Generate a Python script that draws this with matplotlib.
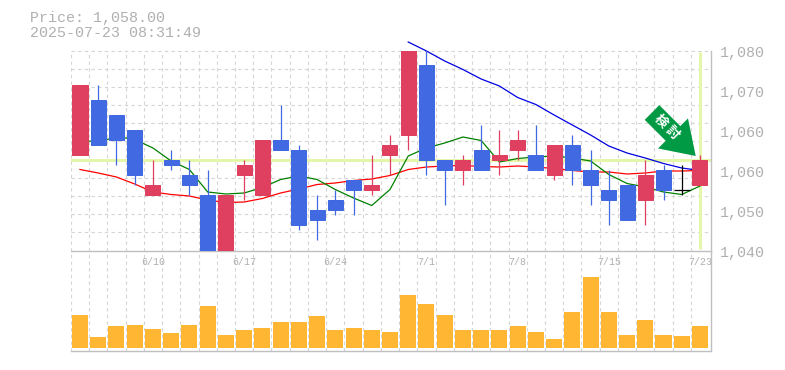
import matplotlib
matplotlib.use('Agg')
import matplotlib.pyplot as plt
from matplotlib.patches import FancyArrow
from matplotlib.transforms import IdentityTransform

# daily prices, first to last candle
opens = [1059, 1070, 1067, 1064, 1051, 1058, 1055, 1051, 1036, 1055, 1051, 1062,
         1060, 1048, 1050, 1054, 1052, 1059, 1063, 1077, 1058, 1056, 1060, 1058,
         1060, 1059, 1055, 1061, 1056, 1052, 1053, 1050, 1056, 1052, 1053]
closes = [1073, 1061, 1062, 1055, 1053, 1057, 1053, 1036, 1051, 1057, 1062, 1060,
          1045, 1046, 1048, 1052, 1053, 1061, 1080, 1058, 1056, 1058, 1056, 1059,
          1062, 1056, 1061, 1056, 1053, 1050, 1046, 1055, 1052, 1052, 1058]
highs = [1073, 1073, 1067, 1064, 1058, 1060, 1058, 1056, 1051, 1058, 1062, 1069,
         1061, 1051, 1052, 1054, 1059, 1063, 1080, 1080, 1058, 1059, 1065, 1064,
         1064, 1065, 1061, 1063, 1060, 1056, 1053, 1058, 1057, 1057, 1059]
lows = [1059, 1061, 1057, 1053, 1051, 1056, 1051, 1036, 1036, 1050, 1051, 1060,
        1044, 1042, 1047, 1047, 1051, 1055, 1060, 1055, 1049, 1053, 1056, 1055,
        1058, 1056, 1054, 1053, 1049, 1045, 1046, 1045, 1050, 1051, 1053]
volumes = [3300, 1100, 2200, 2300, 1900, 1500, 2300, 4200, 1300, 1800, 2000, 2600,
           2600, 3200, 1800, 2000, 1800, 1600, 5300, 4400, 3300, 1800, 1800, 1800,
           2200, 1600, 900, 3600, 7100, 3600, 1300, 2800, 1300, 1200, 2200]

ma_short = [1062.0, 1061.4, 1062.6, 1062.0, 1060.3, 1057.7, 1056.0, 1051.5, 1051.1,
            1051.3, 1052.4, 1054.0, 1054.7, 1054.0, 1052.0, 1050.3, 1048.8, 1052.0,
            1058.7, 1060.3, 1061.3, 1062.5, 1061.8, 1057.5, 1058.2, 1058.5, 1058.7,
            1058.3, 1057.7, 1055.0, 1053.2, 1052.5, 1051.5, 1051.0, 1052.7]
ma_mid = [1056.0, 1055.3, 1054.5, 1053.1, 1051.5, 1051.0, 1050.7, 1049.9, 1049.4,
          1049.5, 1050.2, 1051.3, 1052.1, 1053.0, 1053.3, 1053.8, 1054.1, 1054.8,
          1056.0, 1056.5, 1056.7, 1056.8, 1056.6, 1056.5, 1056.7, 1056.5, 1056.2,
          1055.8, 1055.5, 1055.5, 1055.1, 1055.3, 1055.7, 1055.7, 1055.8]
ma_long = [1081.5, 1079.7, 1077.7, 1076.0, 1074.1, 1072.7, 1070.4, 1069.0, 1066.9,
           1064.9, 1062.9, 1060.7, 1059.3, 1058.3, 1057.2, 1056.3, 1055.8]
ma_long_start = 18

price_ticks = [1040, 1048, 1056, 1064, 1072, 1080]
price_labels = ['1,040', '1,050', '1,060', '1,060', '1,070', '1,080']
date_idx = [4, 9, 14, 19, 24, 29, 34]
date_labels = ['6/10', '6/17', '6/24', '7/1', '7/8', '7/15', '7/23']
last_price = 1058

RED = '#e04060'
BLUE = '#4169e1'
BAR = '#ffb733'
GRID = '#d4d4d4'
FRAME = '#c0c0c0'
TEXT = '#b0b0b0'
HILITE = '#e4f6aa'
MONO = 'Liberation Mono'

W, H = 785, 370
L, R = 70.5, 710.5
fig = plt.figure(figsize=(W / 100, H / 100), dpi=100)
ax = fig.add_axes([L / W, 1 - 250.5 / H, (R - L) / W, 200 / H])
vol = fig.add_axes([L / W, 1 - 350.5 / H, (R - L) / W, 100 / H])
vol.patch.set_visible(False)

# candle centres run 18.235px apart starting at x=80
step = 18.235
xlim = ((L - 80) / step, (R - 80) / step)
xs = list(range(len(opens)))
grid_x = [i - 0.5 for i in xs]
px = 0.72  # one pixel in points

for a in (ax, vol):
    a.set_xlim(xlim)
    a.set_xticks([])
    a.set_yticks([])
    a.set_facecolor('white')
    for x in grid_x:
        a.axvline(x, color=GRID, lw=0.8, ls=(0, (3, 3)), zorder=0)
    for side in ('left', 'top'):
        a.spines[side].set_visible(False)
    for side in ('right', 'bottom'):
        a.spines[side].set_color(FRAME)
        a.spines[side].set_linewidth(1.0)

# range nudged a fifth of a unit (1px) so candle edges land on the same rows
y0, y1 = 1039.8, 1079.8
ax.set_ylim(y0, y1)
grid_step = (y1 - y0) / 11
for k in range(12):
    ax.axhline(y0 + k * grid_step, color=GRID, lw=0.8, ls=(0, (3, 3)), zorder=0,
               clip_on=False)

# last price highlight
ax.axhline(last_price, color=HILITE, lw=2.2, zorder=1)
ax.plot([xs[-1], xs[-1]], [y0 + 0.3, y1 - 0.3], color=HILITE, lw=2.2, zorder=1,
        solid_capstyle='butt')

# moving averages sit under the candles
ax.plot(xs, ma_mid, color='#ff0000', lw=0.9, zorder=2)
ax.plot(xs, ma_short, color='#008000', lw=0.9, zorder=2)
ax.plot(xs[ma_long_start:], ma_long, color='#0000e0', lw=0.9, zorder=2, clip_on=False)

for i in xs:
    o, c, h, l = opens[i], closes[i], highs[i], lows[i]
    if c == o:
        col = 'black'
    elif c > o:
        col = RED
    else:
        col = BLUE
    ax.plot([i, i], [l, h], color=col, lw=0.9, zorder=3, solid_capstyle='butt')
    if c == o:
        ax.plot([i - 0.44, i + 0.44], [c, c], color=col, lw=0.9, zorder=3,
                solid_capstyle='butt')
    else:
        ax.bar(i, abs(c - o), bottom=min(o, c), width=0.823, color=col, edgecolor=col,
               lw=px, zorder=3)

vol.set_ylim(-250, 9750)
vol.bar(xs, volumes, width=0.88, color=BAR, lw=0, zorder=3)

# axis labels are placed by hand, the chart has no tick marks
for v, lab in zip(price_ticks, price_labels):
    ax.annotate(lab, (1, v), xycoords=ax.get_yaxis_transform(), xytext=(9.5, -3.5),
                textcoords='offset pixels', family=MONO, fontsize=10.8, color=TEXT,
                va='center', ha='left', annotation_clip=False)
for i, lab in zip(date_idx, date_labels):
    vol.annotate(lab, (i, 1), xycoords=vol.get_xaxis_transform(), xytext=(0, -11.5),
                 textcoords='offset pixels', family=MONO, fontsize=7.2, color=TEXT,
                 va='center', ha='center', annotation_clip=False)

fig.text(30 / W, 1 - 18 / H, 'Price: 1,058.00', family=MONO, fontsize=10.8, color=TEXT,
         va='center', ha='left')
fig.text(30 / W, 1 - 33 / H, '2025-07-23 08:31:49', family=MONO, fontsize=10.8, color=TEXT,
         va='center', ha='left')

# green signal arrow, in display pixels (y measured from the bottom)
arrow = FancyArrow(652, H - 112.5, 43.7, -43.5, width=20.7, head_width=42.4,
                   head_length=32, length_includes_head=True, color='#009944', lw=0,
                   transform=IdentityTransform(), zorder=5)
fig.add_artist(arrow)
fig.text(667 / W, 1 - 126.5 / H, '検 討', family=['Noto Sans CJK JP', 'DejaVu Sans'],
         fontsize=9.5, fontweight='bold', color='white', rotation=-45,
         rotation_mode='anchor', va='center', ha='center', zorder=6)

fig.savefig('out.png', dpi=100)
